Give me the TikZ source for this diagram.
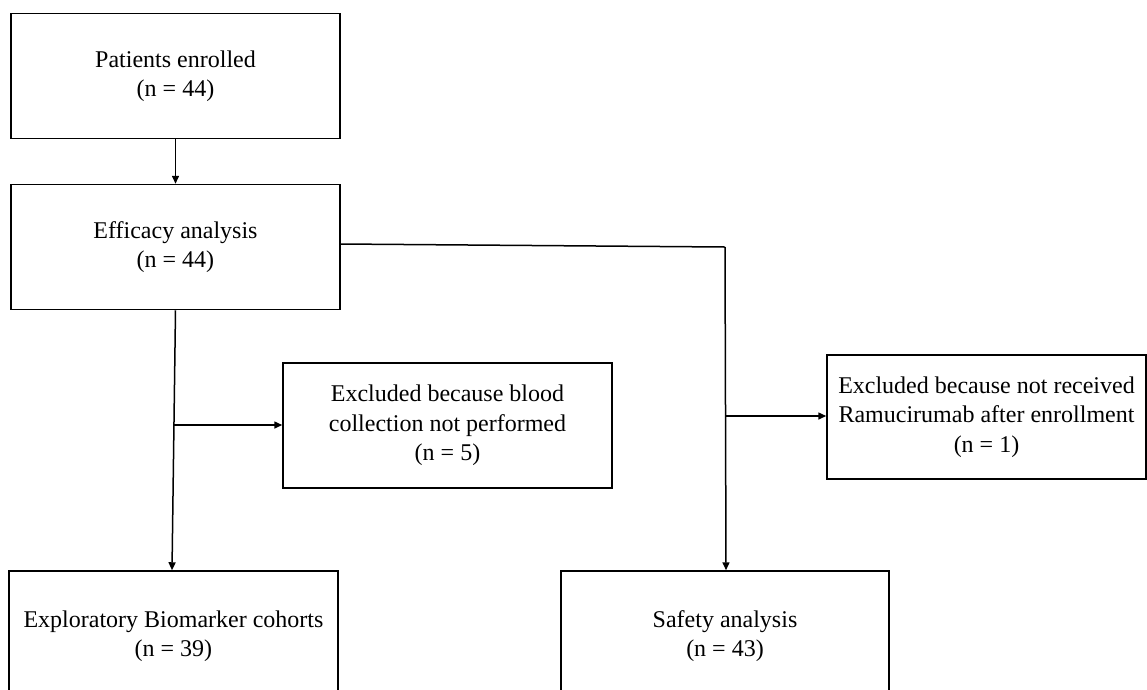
\documentclass[tikz,border=0pt]{standalone}
\usepackage{fontspec}
\setmainfont{Liberation Serif}
\usetikzlibrary{arrows.meta}
\begin{document}
\begin{tikzpicture}[x=1pt,y=-1pt,
  box/.style={draw, line width=1.5pt, align=center, inner sep=0pt,
    font=\fontsize{24}{29.5}\selectfont},
  conn/.style={line width=1.5pt},
  arr/.style={conn, -{Triangle[length=8pt,width=7pt]}}]
\useasboundingbox (0,0) rectangle (1147,689);
\node[box, minimum width=329pt, minimum height=125pt] (enrol) at (175.5,76) {Patients enrolled\\(n = 44)};
\node[box, minimum width=329pt, minimum height=125pt] (eff) at (175.5,247) {Efficacy analysis\\(n = 44)};
\node[box, minimum width=329pt, minimum height=125pt] (exblood) at (447.5,425.5) {Excluded because blood\\collection not performed\\(n = 5)};
\node[box, minimum width=319pt, minimum height=124pt] (exram) at (986.5,417) {Excluded because not received\\Ramucirumab after enrollment\\(n = 1)};
\node[box, minimum width=329pt, minimum height=130pt] (bio) at (173.5,636) {Exploratory Biomarker cohorts\\(n = 39)};
\node[box, minimum width=328pt, minimum height=130pt] (safe) at (725,636) {Safety analysis\\(n = 43)};
\coordinate (j1) at (725,247);
\coordinate (b1) at (174,425);
\coordinate (b2) at (725.5,416);
\draw[arr] (enrol.south) -- (eff.north);
\draw[arr] (eff.south) -- (bio.north -| 172,0);
\draw[arr] (b1) -- (exblood.west |- b1);
\draw[conn] ([yshift=3pt]eff.east) -- (j1);
\draw[arr] (j1) -- (safe.north -| 726,0);
\draw[arr] (b2) -- (exram.west |- b2);
\end{tikzpicture}
\end{document}
